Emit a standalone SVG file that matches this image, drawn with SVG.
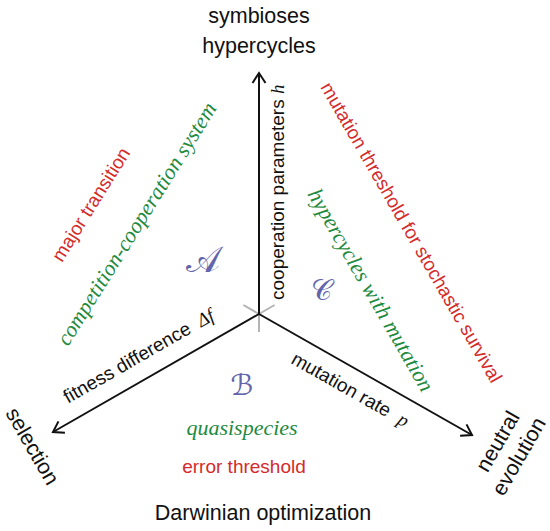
<svg xmlns="http://www.w3.org/2000/svg" width="550" height="531" viewBox="0 0 550 531">
<defs>
<marker id="arr" markerUnits="userSpaceOnUse" markerWidth="16" markerHeight="16" viewBox="-13 -8 16 16" refX="0" refY="0" orient="auto" overflow="visible">
<path d="M-10,-6.5 L0,0 L-10,6.5" fill="none" stroke="#111" stroke-width="2"/>
</marker>
<style>
.ax{stroke:#111;stroke-width:2;fill:none}
.tick{stroke:#b4b4b4;stroke-width:2;fill:none}
.lab{font-family:"Liberation Sans",Arial,sans-serif;font-size:21.5px;fill:#111}
.axl{font-family:"Liberation Sans",Arial,sans-serif;font-size:19px;fill:#111}
.m{font-family:"Liberation Serif","Times New Roman",serif;font-style:italic}
.red{font-family:"Liberation Sans",Arial,sans-serif;font-size:19px;fill:#d42b2b}
.grn{font-family:"Liberation Serif","Times New Roman",serif;font-style:italic;font-size:22px;fill:#1e8a3e}
.reg{font-family:"DejaVu Serif","DejaVu Sans",serif;font-size:29px;fill:#6464ac;text-anchor:middle}
</style>
</defs>
<rect width="550" height="531" fill="#fff"/>
<g id="connectors">
<line class="tick" x1="259" y1="314" x2="259" y2="332"/>
<line class="tick" x1="259" y1="314" x2="274.6" y2="305"/>
<line class="tick" x1="259" y1="314" x2="243.4" y2="305"/>
<line class="ax" x1="259" y1="314" x2="259" y2="73" marker-end="url(#arr)"/>
<line class="ax" x1="259" y1="314" x2="53" y2="432" marker-end="url(#arr)"/>
<line class="ax" x1="259" y1="314" x2="472" y2="435" marker-end="url(#arr)"/>
</g>
<g id="top-label">
<text class="lab" x="259" y="23" text-anchor="middle">symbioses</text>
<text class="lab" x="259" y="53" text-anchor="middle">hypercycles</text>
</g>
<g id="bottom-label">
<text class="lab" x="263" y="520" text-anchor="middle">Darwinian optimization</text>
</g>
<g id="left-label">
<text class="lab" transform="translate(5,413) rotate(60)">selection</text>
</g>
<g id="right-label">
<text class="lab" transform="translate(504,445) rotate(-60)" text-anchor="middle">neutral</text>
<text class="lab" transform="translate(525,460) rotate(-60)" text-anchor="middle">evolution</text>
</g>
<g id="axis-h">
<text class="axl" transform="translate(284,300) rotate(-90)">cooperation parameters <tspan class="m">h</tspan></text>
</g>
<g id="axis-f">
<text class="axl" transform="translate(53,432) rotate(-29.8)" x="27" y="-17">fitness difference <tspan class="m" dx="5">Δf</tspan></text>
</g>
<g id="axis-p">
<text class="axl" transform="translate(259,314) rotate(29.6)" x="51" y="27">mutation rate <tspan class="m" dx="6">p</tspan></text>
</g>
<g id="region-A">
<text class="reg" x="203" y="272" style="font-size:36px">𝒜</text>
<text class="red" transform="translate(62,263) rotate(-58)">major transition</text>
<text class="grn" transform="translate(68,347) rotate(-58)">competition-cooperation system</text>
</g>
<g id="region-B">
<text class="reg" x="242" y="395">ℬ</text>
<text class="grn" x="242" y="435" text-anchor="middle">quasispecies</text>
<text class="red" x="244" y="473" text-anchor="middle">error threshold</text>
</g>
<g id="region-C">
<text class="reg" x="321" y="300">𝒞</text>
<text class="red" transform="translate(320,87) rotate(60)">mutation threshold for stochastic survival</text>
<text class="grn" transform="translate(307,194) rotate(60)">hypercycles with mutation</text>
</g>
</svg>
